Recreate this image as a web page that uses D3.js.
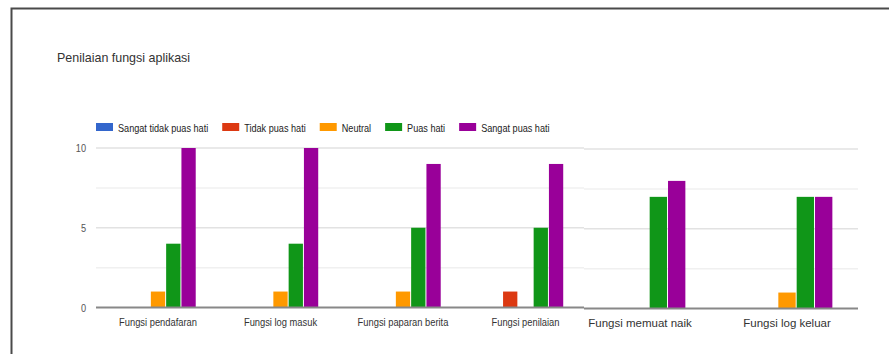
<!DOCTYPE html>
<html>
<head>
<meta charset="utf-8">
<script src="https://cdn.jsdelivr.net/npm/d3@7"></script>
<style>
  html, body { margin: 0; padding: 0; background: #fff; }
  svg { display: block; }
</style>
</head>
<body>
<svg id="chart" width="889" height="354"></svg>
<script>
// Survey results: rating of each application function
const categories = ["Fungsi pendafaran", "Fungsi log masuk", "Fungsi paparan berita",
                    "Fungsi penilaian", "Fungsi memuat naik", "Fungsi log keluar"];
const seriesNames = ["Sangat tidak puas hati", "Tidak puas hati", "Neutral", "Puas hati", "Sangat puas hati"];
const seriesColors = ["#3366cc", "#dc3912", "#ff9900", "#109618", "#990099"];
const sangatTidakPuas = [0, 0, 0, 0, 0, 0];
const tidakPuas       = [0, 0, 0, 1, 0, 0];
const neutral         = [1, 1, 1, 0, 0, 1];
const puas            = [4, 4, 5, 5, 7, 7];
const sangatPuas      = [10, 10, 9, 9, 8, 7];
const yTicks = [0, 5, 10];
const yMinorTicks = [2.5, 7.5];

const seriesValues = [sangatTidakPuas, tidakPuas, neutral, puas, sangatPuas];
const FONT = "'Liberation Sans', Arial, Helvetica, sans-serif";

const svg = d3.select("#chart");

// text squeezed horizontally by factor k (condensed look)
function narrowText(sel, x, y, k, anchor) {
  return sel.append("text")
    .attr("transform", `translate(${x},${y}) scale(${k},1)`)
    .attr("text-anchor", anchor || "start")
    .attr("font-family", FONT);
}

// outer frame
svg.append("path")
  .attr("d", "M11.5,354 L11.5,8.5 L889,8.5")
  .attr("fill", "none").attr("stroke", "#4a4a4a").attr("stroke-width", 2);

// title
narrowText(svg, 57, 62, 0.96)
  .attr("font-size", 13).attr("fill", "#333")
  .text("Penilaian fungsi aplikasi");

const y = d3.scaleLinear().domain([0, 10]).range([307.5, 148]);

// two panels: first four categories and the last two (wider spacing)
const panels = [
  { cats: categories.slice(0, 4), offset: 0, range: [96.75, 586.75], x0: 96, x1: 584, dy: 0,
    fs: 11, k: 0.85, ly: 326 },
  { cats: categories.slice(4), offset: 4, range: [566.5, 860.5], x0: 584, x1: 858, dy: 1,
    fs: 11.5, k: 1, ly: 327 }
];

panels.forEach(p => {
  const g = svg.append("g").attr("transform", `translate(0,${p.dy})`);
  const x = d3.scaleBand().domain(p.cats).range(p.range).padding(0);
  const groupW = x.bandwidth() * 0.624;
  const xs = d3.scaleBand().domain(seriesNames).range([0, groupW]).padding(0);

  // minor gridlines
  g.selectAll("line.minor").data(yMinorTicks).join("line")
    .attr("x1", p.x0).attr("x2", p.x1)
    .attr("y1", d => y(d)).attr("y2", d => y(d))
    .attr("stroke", "#f0f0f0").attr("stroke-width", 1.5);
  // major gridlines
  g.selectAll("line.major").data(yTicks.filter(d => d !== 0)).join("line")
    .attr("x1", p.x0).attr("x2", p.x1)
    .attr("y1", d => y(d)).attr("y2", d => y(d))
    .attr("stroke", "#e2e2e2").attr("stroke-width", 1.5);

  // bars
  p.cats.forEach((cat, ci) => {
    const idx = ci + p.offset;
    const gx = x(cat) + (x.bandwidth() - groupW) / 2;
    seriesNames.forEach((s, si) => {
      const v = seriesValues[si][idx];
      if (v <= 0) return;
      g.append("rect")
        .attr("x", gx + xs(s) + 0.5)
        .attr("width", xs.bandwidth() - 1)
        .attr("y", y(v))
        .attr("height", y(0) - y(v))
        .attr("fill", seriesColors[si]);
    });
    narrowText(g, x(cat) + x.bandwidth() / 2, p.ly - p.dy, p.k, "middle")
      .attr("font-size", p.fs)
      .attr("fill", "#333")
      .text(cat);
  });

  // baseline
  g.append("line")
    .attr("x1", p.x0).attr("x2", p.x1)
    .attr("y1", y(0)).attr("y2", y(0))
    .attr("stroke", "#888").attr("stroke-width", 2);
});

// y-axis tick labels
yTicks.forEach(d => {
  narrowText(svg, 86, y(d) + 4, 0.8, "end")
    .attr("font-size", 11.5).attr("fill", "#555")
    .text(d);
});

// legend
const legend = svg.append("g").attr("transform", "translate(96,0)");
let lx = 0;
const legendK = 0.83;
seriesNames.forEach((s, i) => {
  legend.append("rect")
    .attr("x", lx).attr("y", 123).attr("width", 17).attr("height", 8)
    .attr("fill", seriesColors[i]);
  const t = narrowText(legend, lx + 22, 131.5, legendK)
    .attr("font-size", 11).attr("fill", "#222")
    .text(s);
  lx += 22 + t.node().getComputedTextLength() * legendK + 14;
});
</script>
</body>
</html>
